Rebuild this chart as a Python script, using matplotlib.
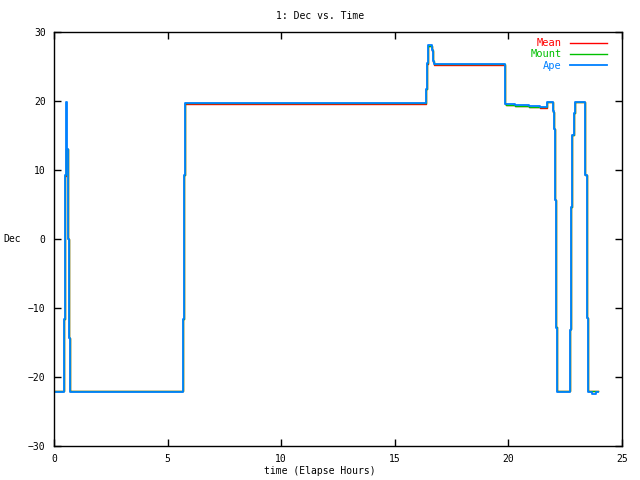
import matplotlib
matplotlib.use("Agg")
import matplotlib.pyplot as plt

# Ape track (hours, deg)
ape_t = [0.0, 0.45, 0.50, 0.54, 0.57, 0.62, 0.66, 0.69, 5.69, 5.74, 5.78,
         16.37, 16.42, 16.46, 16.64, 16.68, 16.73, 19.85, 19.89, 20.3, 20.9,
         21.39, 21.68, 21.72, 21.96, 22.02, 22.06, 22.11, 22.15, 22.73, 22.77,
         22.81, 22.87, 22.92, 23.38, 23.44, 23.49, 23.70, 23.85, 23.93]
ape_v = [-22.2, -11.6, 9.3, 19.9, 13.1, 0.0, -14.3, -22.2, -11.6, 9.3, 19.75,
         21.8, 25.5, 28.1, 27.4, 25.8, 25.3, 19.6, 19.5, 19.4, 19.3,
         19.2, 19.6, 19.9, 18.6, 16.0, 5.6, -12.9, -22.2, -13.2, 4.7,
         15.1, 18.2, 19.8, 9.3, -11.5, -22.2, -22.4, -22.2, -22.2]

# Mount track
mount_t = [0.0, 0.45, 0.50, 0.54, 0.57, 0.62, 0.66, 0.69, 5.69, 5.74, 5.78,
           16.37, 16.42, 16.46, 16.64, 16.68, 16.73, 19.85, 19.89, 20.3, 20.9,
           21.39, 21.68, 21.72, 21.96, 22.02, 22.06, 22.11, 22.15, 22.73, 22.77,
           22.81, 22.87, 22.92, 23.38, 23.44, 23.49, 23.93]
mount_v = [-22.0, -11.6, 9.3, 13.1, 13.1, 0.0, -14.3, -22.1, -11.6, 9.3, 19.7,
           21.8, 25.5, 28.0, 27.4, 25.8, 25.3, 19.6, 19.4, 19.3, 19.2,
           19.1, 19.5, 19.8, 18.4, 16.0, 5.6, -12.7, -22.1, -13.0, 4.7,
           15.1, 18.2, 19.8, 9.3, -11.5, -22.1, -22.1]

# Mean track
mean_t = [0.0, 0.45, 0.50, 0.54, 0.57, 0.62, 0.66, 0.69, 5.69, 5.74, 5.78,
          16.37, 16.42, 16.46, 16.64, 16.68, 16.73, 19.85, 19.89, 20.3, 20.9,
          21.39, 21.68, 21.72, 21.96, 22.02, 22.06, 22.11, 22.15, 22.73, 22.77,
          22.81, 22.87, 22.92, 23.38, 23.44, 23.49, 23.93]
mean_v = [-22.1, -11.6, 9.2, 13.0, 13.0, 0.0, -14.3, -22.1, -11.6, 9.3, 19.62,
          21.8, 25.4, 28.0, 27.3, 25.7, 25.2, 19.5, 19.4, 19.3, 19.1,
          19.0, 19.4, 19.8, 18.4, 16.0, 5.6, -12.8, -22.1, -13.0, 4.7,
          15.1, 18.2, 19.8, 9.3, -11.5, -22.1, -22.1]

FONT = "DejaVu Sans Mono"

fig = plt.figure(figsize=(6.4, 4.8), dpi=100)
ax = fig.add_axes([54 / 640, 34 / 480, 568 / 640, 414 / 480])

ax.plot(mean_t, mean_v, drawstyle="steps-post", color="#ff0000", lw=1.0, label="Mean")
ax.plot(mount_t, mount_v, drawstyle="steps-post", color="#00c000", lw=1.0, label="Mount")
ax.plot(ape_t, ape_v, drawstyle="steps-post", color="#0080ff", lw=1.3, label="Ape")

ax.set_xlim(0, 25)
ax.set_ylim(-30, 30)
ax.set_xticks(range(0, 26, 5))
ax.set_yticks(range(-30, 31, 10))
ax.tick_params(direction="in", top=True, right=True, length=5, width=1,
               labelsize=7, pad=6)
for lab in ax.get_xticklabels() + ax.get_yticklabels():
    lab.set_family(FONT)
for s in ax.spines.values():
    s.set_linewidth(1)

fig.text(0.5, 1 - 16 / 480, "1: Dec vs. Time", ha="center", va="center",
         fontsize=7, family=FONT)
fig.text(0.5, 1 - 471 / 480, "time (Elapse Hours)", ha="center", va="center",
         fontsize=7, family=FONT)
fig.text(12 / 640, 1 - 239 / 480, "Dec", ha="center", va="center",
         fontsize=7, family=FONT)

leg = ax.legend(loc="upper right", frameon=False, markerfirst=False,
                labelcolor="linecolor", handlelength=3.6, handletextpad=0.8,
                labelspacing=0.12, borderaxespad=0.2,
                bbox_to_anchor=(0.985, 1.0),
                prop={"family": FONT, "size": 7.5})

fig.savefig("out.png", dpi=100)
